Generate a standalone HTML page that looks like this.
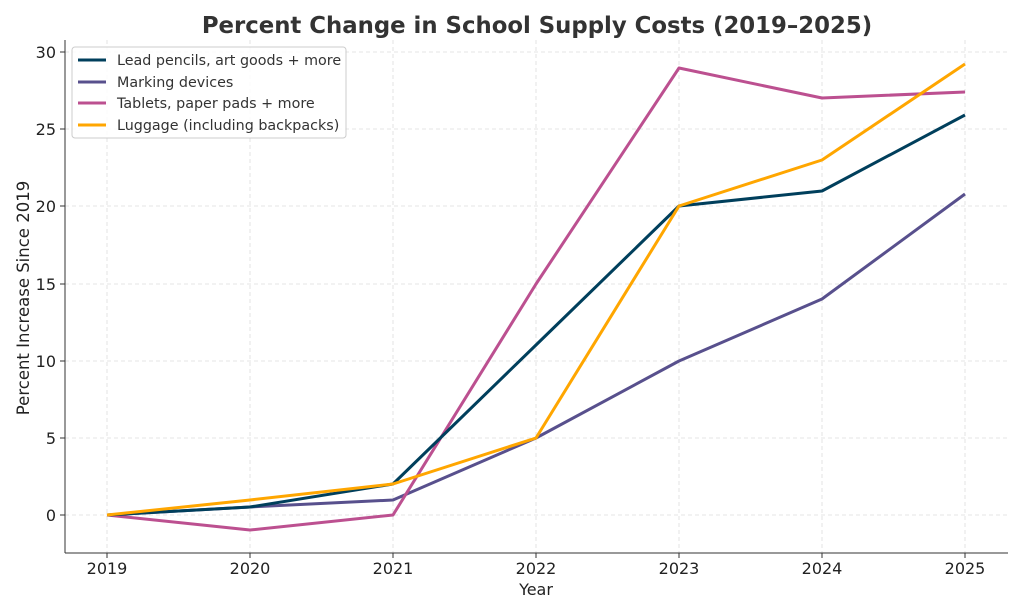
<!DOCTYPE html>
<html><head><style>body{margin:0;background:#fff}svg{display:block}text{font-family:"DejaVu Sans","Liberation Sans",sans-serif}</style></head><body>
<svg width="1024" height="614" viewBox="0 0 1024 614" xmlns="http://www.w3.org/2000/svg">
<rect width="1024" height="614" fill="#fff"/>
<g stroke="#dcdcdc" stroke-width="0.8" stroke-dasharray="4,3">
<line x1="107" y1="40" x2="107" y2="553"/><line x1="250" y1="40" x2="250" y2="553"/><line x1="393" y1="40" x2="393" y2="553"/><line x1="536" y1="40" x2="536" y2="553"/><line x1="679" y1="40" x2="679" y2="553"/><line x1="822" y1="40" x2="822" y2="553"/><line x1="965" y1="40" x2="965" y2="553"/>
<line x1="65" y1="515" x2="1008" y2="515"/><line x1="65" y1="438" x2="1008" y2="438"/><line x1="65" y1="361" x2="1008" y2="361"/><line x1="65" y1="284" x2="1008" y2="284"/><line x1="65" y1="206" x2="1008" y2="206"/><line x1="65" y1="129" x2="1008" y2="129"/><line x1="65" y1="52" x2="1008" y2="52"/>
</g>
<g stroke="#333" stroke-width="1">
<line x1="65" y1="40" x2="65" y2="553"/><line x1="65" y1="553" x2="1008" y2="553"/>
<line x1="60" y1="515" x2="65" y2="515"/><line x1="60" y1="438" x2="65" y2="438"/><line x1="60" y1="361" x2="65" y2="361"/><line x1="60" y1="284" x2="65" y2="284"/><line x1="60" y1="206" x2="65" y2="206"/><line x1="60" y1="129" x2="65" y2="129"/><line x1="60" y1="52" x2="65" y2="52"/>
<line x1="107" y1="553" x2="107" y2="558"/><line x1="250" y1="553" x2="250" y2="558"/><line x1="393" y1="553" x2="393" y2="558"/><line x1="536" y1="553" x2="536" y2="558"/><line x1="679" y1="553" x2="679" y2="558"/><line x1="822" y1="553" x2="822" y2="558"/><line x1="965" y1="553" x2="965" y2="558"/>
</g>
<g font-size="16" fill="#222" text-anchor="end">
<text x="56" y="521">0</text><text x="56" y="444">5</text><text x="56" y="367">10</text><text x="56" y="290">15</text><text x="56" y="212">20</text><text x="56" y="135">25</text><text x="56" y="58">30</text>
</g>
<g font-size="16" fill="#222" text-anchor="middle">
<text x="107" y="574">2019</text><text x="250" y="574">2020</text><text x="393" y="574">2021</text><text x="536" y="574">2022</text><text x="679" y="574">2023</text><text x="822" y="574">2024</text><text x="965" y="574">2025</text>
<text x="536" y="595">Year</text>
<text x="0" y="0" font-size="16.5" transform="translate(29,298) rotate(-90)">Percent Increase Since 2019</text>
<text x="537" y="33" font-size="22.8" font-weight="bold" fill="#333">Percent Change in School Supply Costs (2019–2025)</text>
</g>
<g fill="none" stroke-width="3" stroke-linejoin="round">
<polyline stroke="#58508d" points="107,515 250,507 393,500 536,438 679,361 822,299 965,194"/>
<polyline stroke="#bc5090" points="107,515 250,530 393,515 536,284 679,68 822,98 965,92"/>
<polyline stroke="#003f5c" points="107,515 250,507 393,484 536,345 679,206 822,191 965,115"/>
<polyline stroke="#ffa600" points="107,515 250,500 393,484 536,438 679,206 822,160 965,64"/>
</g>
<rect x="72" y="47" width="274" height="91" rx="3" fill="#fff" fill-opacity="0.85" stroke="#ccc"/>
<g stroke-width="3">
<line x1="78" y1="60" x2="106" y2="60" stroke="#003f5c"/><line x1="78" y1="82" x2="106" y2="82" stroke="#58508d"/><line x1="78" y1="103" x2="106" y2="103" stroke="#bc5090"/><line x1="78" y1="125" x2="106" y2="125" stroke="#ffa600"/>
</g>
<g font-size="14.3" fill="#333">
<text x="117" y="65">Lead pencils, art goods + more</text><text x="117" y="87">Marking devices</text><text x="117" y="108">Tablets, paper pads + more</text><text x="117" y="130">Luggage (including backpacks)</text>
</g>
</svg>
</body></html>
